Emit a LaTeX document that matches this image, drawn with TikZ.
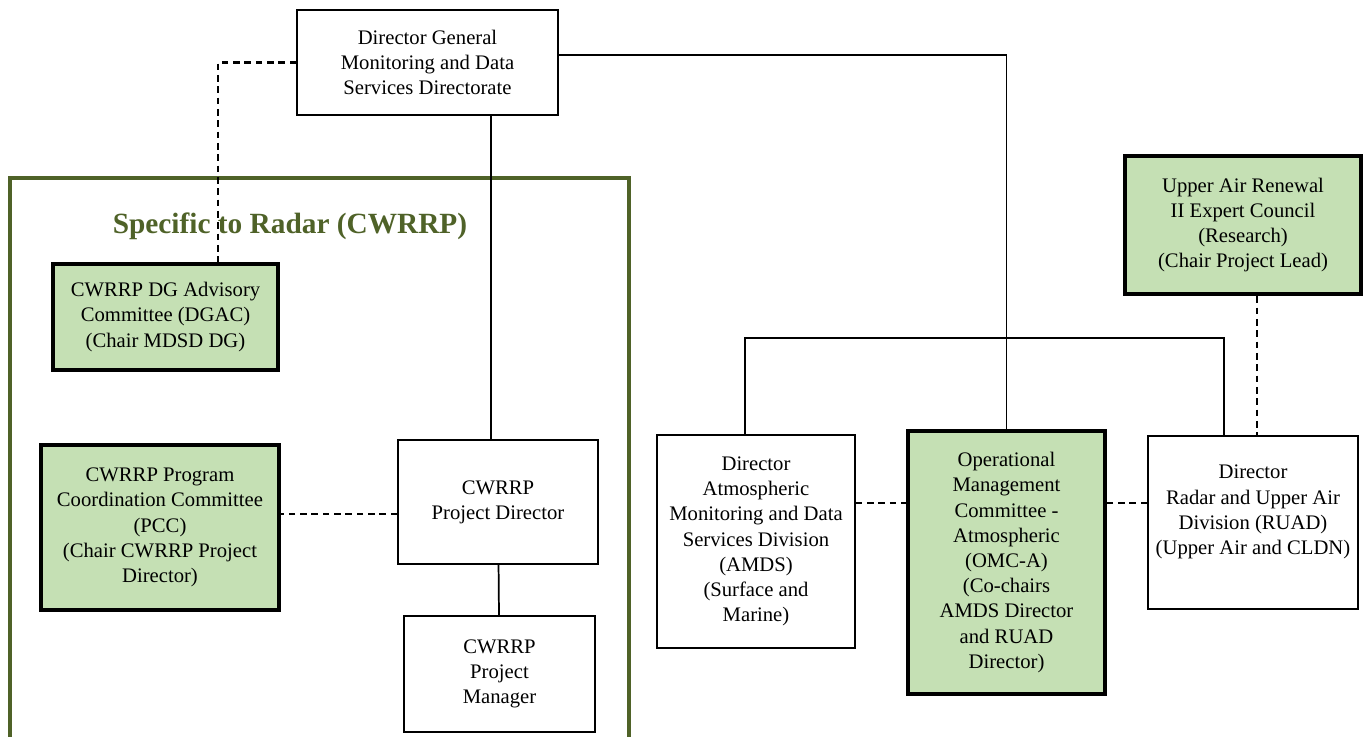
\documentclass[tikz,border=0pt]{standalone}
\usepackage{fontspec}
\setmainfont{Liberation Serif}
\usepackage{tikz}
\usetikzlibrary{arrows.meta}

\definecolor{boxgreen}{HTML}{C5E0B4}
\definecolor{framegreen}{HTML}{4F6228}

\begin{document}
\begin{tikzpicture}[x=0.75pt,y=-0.75pt]
  \tikzset{unit/.style = {shape=rectangle,draw,line width=1.2pt,fill=white,align=center,inner sep=0pt,
      font=\fontsize{15.5}{18.9}\selectfont}}
  \tikzset{committee/.style = {unit,fill=boxgreen,line width=3.4pt}}
  \tikzset{solidline/.style = {line width=1.3pt}}
  \tikzset{dashline/.style = {line width=1.6pt,dash pattern=on 5pt off 3.5pt}}

  \useasboundingbox (0,0) rectangle (1364,737);

  % radar frame
  \draw[framegreen,line width=3pt] (10,745) -- (10,178) -- (629,178) -- (629,745);
  \node[text=framegreen,font=\fontsize{22}{26}\selectfont\bfseries] (title) at (290,226) {Specific to Radar (CWRRP)};

	\node[unit,minimum width=195.75pt,minimum height=78.75pt] (dg) at (427.5,62.5) {Director General\\Monitoring and Data\\Services Directorate};

	\node[committee,minimum width=168.75pt,minimum height=79.5pt] (dgac) at (165.5,317) {CWRRP DG Advisory\\Committee (DGAC)\\(Chair MDSD DG)};
	\node[committee,minimum width=178.5pt,minimum height=123.75pt] (pcc) at (160,527.5) {CWRRP Program\\Coordination Committee\\(PCC)\\(Chair CWRRP Project\\Director)};
	\node[unit,minimum width=150pt,minimum height=93pt] (pd) at (498,502) {CWRRP\\Project Director};
	\node[unit,minimum width=143.25pt,minimum height=87pt] (pm) at (499.5,674) {CWRRP\\Project\\Manager};

	\node[unit,minimum width=148.5pt,minimum height=159.75pt] (amds) at (756,541.5) {Director\\Atmospheric\\Monitoring and Data\\Services Division\\(AMDS)\\(Surface and\\Marine)};
	\node[committee,minimum width=147.75pt,minimum height=197.25pt] (omc) at (1006.5,562.5) {Operational\\Management\\Committee -\\Atmospheric\\(OMC-A)\\(Co-chairs\\AMDS Director\\and RUAD\\Director)};
	\node[unit,minimum width=157.5pt,minimum height=129.75pt] (ruad) at (1253,522.5) {Director\\Radar and Upper Air\\Division (RUAD)\\(Upper Air and CLDN)\\ \mbox{}};
	\node[committee,minimum width=177pt,minimum height=103.5pt] (uar) at (1243,225) {Upper Air Renewal\\II Expert Council\\(Research)\\(Chair Project Lead)};

  \coordinate (bus) at (0,338);

  % reporting lines
	\draw[solidline] ([xshift=47.6pt]dg.south) -- ([xshift=47.6pt]dg.south |- pd.north);
	\draw[solidline] ([yshift=5.6pt]dg.east) -| (omc.north);
	\draw[solidline] ([xshift=-8.25pt]amds.north) -- ([xshift=-8.25pt]amds.north |- bus)
	  -- ([xshift=-21.75pt]ruad.north |- bus) -- ([xshift=-21.75pt]ruad.north);
	\draw[solidline] (pd) -- (pm);

  % advisory lines
	\draw[dashline] (dg.west) -| ([xshift=39.4pt]dgac.north);
	\draw[dashline] ([yshift=-9pt]pd.west) -- ([yshift=-9pt]pd.west -| pcc.east);
	\draw[dashline] ([yshift=28.9pt]amds.east) -- ([yshift=28.9pt]amds.east -| omc.west);
	\draw[dashline] ([yshift=14.6pt]ruad.west) -- ([yshift=14.6pt]ruad.west -| omc.east);
	\draw[dashline] ([xshift=10.5pt]uar.south) -- ([xshift=10.5pt]uar.south |- ruad.north);
\end{tikzpicture}
\end{document}
